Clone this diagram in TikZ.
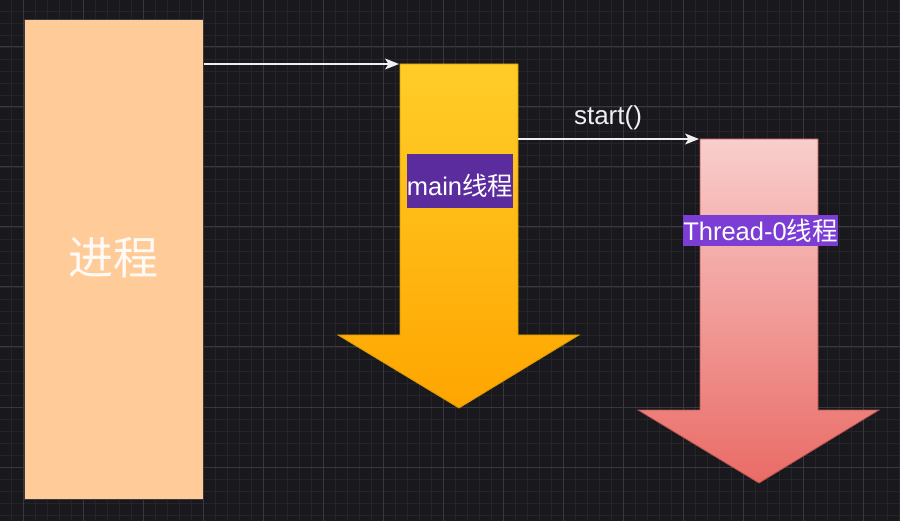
\documentclass[tikz,border=0pt]{standalone}
\usepackage{fontspec}
\setmainfont{Liberation Sans}
\newfontfamily\cjk{Noto Sans CJK SC}
\usetikzlibrary{arrows.meta}
\definecolor{bgc}{HTML}{19181D}
\definecolor{gridminor}{HTML}{25242A}
\definecolor{gridmajor}{HTML}{393840}
\definecolor{procfill}{HTML}{FFCC99}
\definecolor{procstroke}{HTML}{36393D}
\definecolor{mainTopC}{HTML}{FFCD28}
\definecolor{mainBotC}{HTML}{FFA500}
\definecolor{mainStroke}{HTML}{D79B00}
\definecolor{thrTopC}{HTML}{F8CECC}
\definecolor{thrBotC}{HTML}{EA6B66}
\definecolor{thrStroke}{HTML}{B85450}
\definecolor{lblMain}{HTML}{5B2C9E}
\definecolor{lblThr}{HTML}{7C3DD5}
\definecolor{linec}{HTML}{F0F0F0}
\tikzset{
  conn/.style={draw=linec, line width=1.3pt, -{Stealth[length=14pt,width=11pt,inset=3.5pt]}},
  lblbox/.style={fill=#1, draw=none, inner sep=0pt},
  lbltext/.style={text=white, inner sep=0pt, font=\fontsize{25.5}{30}\selectfont},
  proc/.style={fill=procfill, draw=procstroke, line width=1pt, inner sep=0pt}
}
\begin{document}
\begin{tikzpicture}[x=1pt,y=-1pt]
\useasboundingbox (0,0) rectangle (900,521);
\fill[bgc] (0,0) rectangle (900,521);
% minor grid
\foreach \i in {0,...,75} {
  \draw[gridminor, line width=0.8pt] ({11+12*\i-12},0) -- ({11+12*\i-12},521);
}
\foreach \j in {0,...,44} {
  \draw[gridminor, line width=0.8pt] (0,{11+12*\j-12}) -- (900,{11+12*\j-12});
}
% major grid
\foreach \i in {0,...,14} {
  \draw[gridmajor, line width=1pt] ({23+60*\i},0) -- ({23+60*\i},521);
}
\foreach \j in {0,...,8} {
  \draw[gridmajor, line width=1pt] (0,{47+60*\j-60}) -- (900,{47+60*\j-60});
}
% process box
\node[proc, minimum width=179pt, minimum height=480pt, anchor=north west] (proc) at (24,19) {};
\node[text=white, opacity=0.9, font=\cjk\fontsize{45}{50}\selectfont, inner sep=0pt] (proctext) at (113,258) {进程};
% main arrow
\coordinate (mainTL) at (400,64);
\coordinate (mainTR) at (518,64);
\path[draw=mainStroke, line width=0.8pt, top color=mainTopC, bottom color=mainBotC]
  (mainTL) -- (mainTR) -- (518,335) -- (579,335) -- (459,408) -- (338,335) -- (400,335) -- cycle;
% thread arrow
\coordinate (thrTL) at (700,139);
\coordinate (thrTR) at (818,139);
\path[draw=thrStroke, line width=0.8pt, top color=thrTopC, bottom color=thrBotC]
  (thrTL) -- (thrTR) -- (818,410) -- (879,410) -- (759,483) -- (638,410) -- (700,410) -- cycle;
% labels
\node[lblbox=lblMain, minimum width=106pt, minimum height=54pt] (mainlblbox) at (460,181) {};
\node[lbltext] (mainlbl) at (460,186) {main{\cjk 线程}};
\node[lblbox=lblThr, minimum width=155pt, minimum height=31pt] (thrlblbox) at (760.5,230.5) {};
\node[lbltext] (thrlbl) at (760.5,231) {Thread-0{\cjk 线程}};
% connectors
\draw[conn] (proc.east |- mainTL) -- ([xshift=-1pt]mainTL);
\draw[conn] (mainTR |- thrTL) -- ([xshift=-1pt]thrTL);
\node[text=linec, inner sep=0pt, font=\fontsize{26}{30}\selectfont] (startlbl) at (608,118) {start()};
\end{tikzpicture}
\end{document}
